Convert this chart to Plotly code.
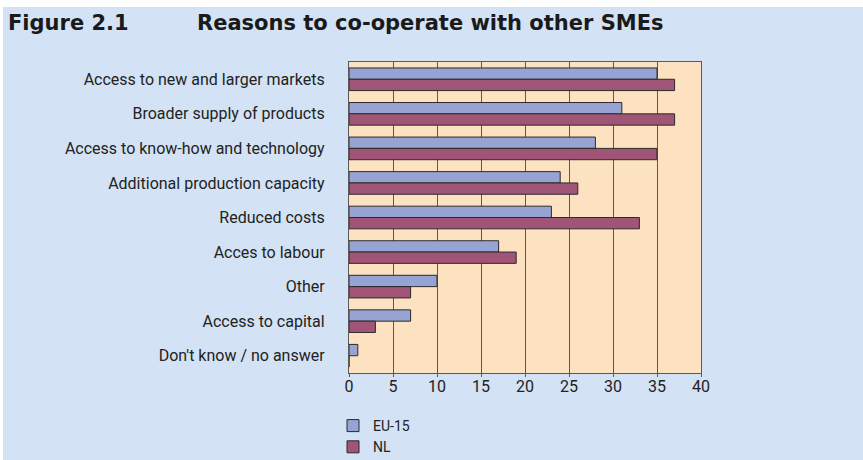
import plotly.graph_objects as go

# Survey reasons for co-operation (percentage of SMEs)
reasons = [
    "Access to new and larger markets",
    "Broader supply of products",
    "Access to know-how and technology",
    "Additional production capacity",
    "Reduced costs",
    "Acces to labour",
    "Other",
    "Access to capital",
    "Don't know / no answer",
]
eu15 = [35, 31, 28, 24, 23, 17, 10, 7, 1]
nl = [37, 37, 35, 26, 33, 19, 7, 3, 0]
x_ticks = [0, 5, 10, 15, 20, 25, 30, 35, 40]

W, H = 863, 460
ML, MR, MT, MB = 349, 162, 62, 87
PW, PH = W - ML - MR, H - MT - MB

BLUE_BG = "#d3e2f4"
PEACH = "#fde2c2"
EU_COL = "#97a3d3"
NL_COL = "#a05577"
EDGE = "#2b2b2b"
GRID = "#5a5a5a"
LABEL_FONT = "Roboto, Liberation Sans, Arial, sans-serif"
TEXT_COL = "#222222"


def px_x(p):
    return (p - ML) / PW


def px_y(p):
    return 1 - (p - MT) / PH


fig = go.Figure()
fig.add_trace(go.Bar(
    y=reasons, x=eu15, orientation="h", name="EU-15",
    marker=dict(color=EU_COL, line=dict(color=EDGE, width=1)),
))
fig.add_trace(go.Bar(
    y=reasons, x=nl, orientation="h", name="NL",
    marker=dict(color=NL_COL, line=dict(color=EDGE, width=1)),
))

# white page strips along top and left edges
fig.add_shape(type="rect", xref="paper", yref="paper", layer="below",
              x0=px_x(-5), x1=px_x(W + 5), y0=px_y(7), y1=px_y(-5),
              fillcolor="white", line_width=0)
fig.add_shape(type="rect", xref="paper", yref="paper", layer="below",
              x0=px_x(-5), x1=px_x(3), y0=px_y(H + 5), y1=px_y(-5),
              fillcolor="white", line_width=0)

title_font = dict(family="DejaVu Sans, Liberation Sans, Arial", size=21, color="#1a1a1a")
fig.add_annotation(text="<b>Figure 2.1</b>", xref="paper", yref="paper",
                   x=px_x(6), y=px_y(23), xanchor="left", yanchor="middle",
                   showarrow=False, font=title_font)
fig.add_annotation(text="<b>Reasons to co-operate with other SMEs</b>", xref="paper", yref="paper",
                   x=px_x(195), y=px_y(23), xanchor="left", yanchor="middle",
                   showarrow=False, font=title_font)

fig.update_layout(
    width=W, height=H,
    margin=dict(l=ML, r=MR, t=MT, b=MB, pad=0, autoexpand=False),
    paper_bgcolor=BLUE_BG,
    plot_bgcolor=PEACH,
    barmode="group",
    bargap=0.345,
    bargroupgap=0,
    font=dict(family=LABEL_FONT, size=16, color=TEXT_COL),
    legend=dict(
        xref="container", yref="container",
        x=333 / W, y=1 - 410 / H, xanchor="left", yanchor="top",
        bgcolor="rgba(0,0,0,0)", traceorder="normal",
        font=dict(family=LABEL_FONT, size=14, color=TEXT_COL),
        itemwidth=30, tracegroupgap=0,
    ),
    showlegend=True,
    xaxis=dict(
        range=[0, 40], tickvals=x_ticks, ticktext=[str(v) for v in x_ticks],
        showgrid=True, gridcolor=GRID, gridwidth=1.3,
        showline=True, linecolor=GRID, linewidth=1.3, mirror=True,
        ticks="outside", ticklen=3, tickcolor=GRID, tickwidth=1.3,
        ticklabelstandoff=-4,
        zeroline=False, fixedrange=True,
        tickfont=dict(family=LABEL_FONT, size=16, color=TEXT_COL),
    ),
    yaxis=dict(
        autorange="reversed",
        showline=True, linecolor=GRID, linewidth=1.3, mirror=True,
        showgrid=False, ticks="", ticklabelstandoff=20,
        tickfont=dict(family=LABEL_FONT, size=16, color=TEXT_COL),
        fixedrange=True,
    ),
)

fig.write_html("out.html")
